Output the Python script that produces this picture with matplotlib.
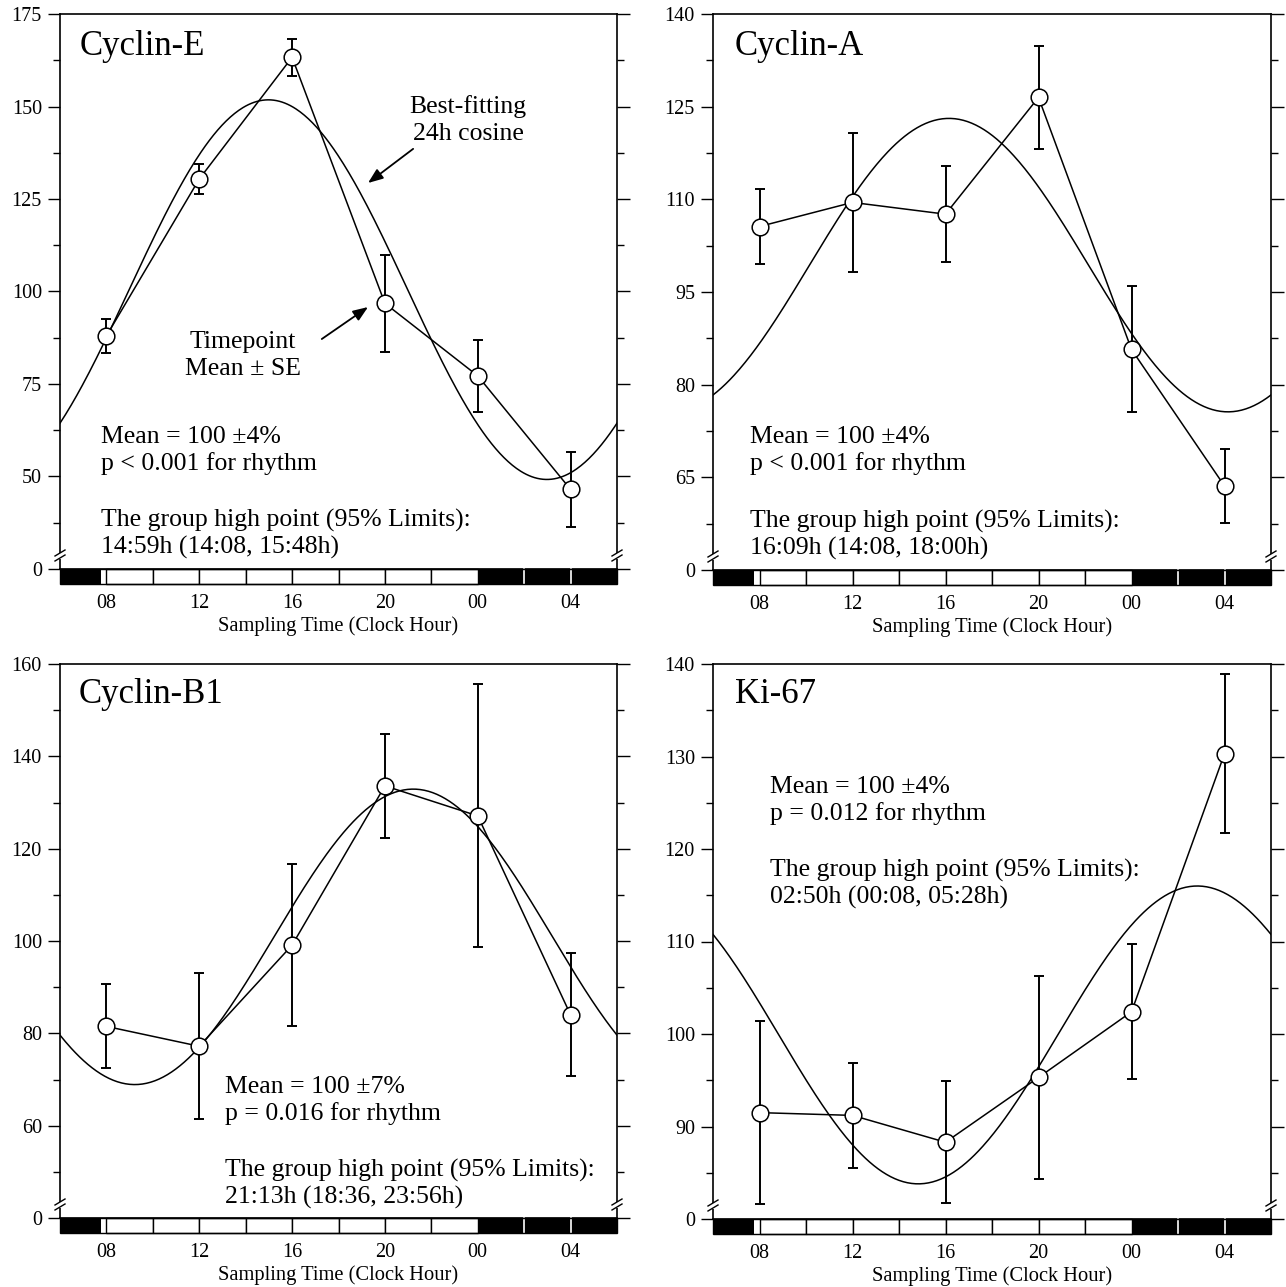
import numpy as np
import matplotlib
matplotlib.use("Agg")
import matplotlib.pyplot as plt
from matplotlib.patches import Rectangle
import matplotlib.transforms as mtransforms

plt.rcParams["font.family"] = ["Liberation Serif", "DejaVu Serif"]

# ── Data ─────────────────────────────────────────────────────────────────────
HOURS = [8, 12, 16, 20, 24, 28]
HOUR_LABELS = ["08", "12", "16", "20", "00", "04"]

CYCLIN_E_MEAN = [88.0, 130.4, 163.3, 96.8, 77.2, 46.5]
CYCLIN_E_SE = [4.5, 4.0, 5.0, 13.1, 9.7, 10.2]
CYCLIN_E_FIT = (100.5, 51.3, 14.98)        # mesor, amplitude, acrophase [h]

CYCLIN_A_MEAN = [105.6, 109.5, 107.6, 126.5, 85.7, 63.6]
CYCLIN_A_SE = [6.0, 11.2, 7.8, 8.4, 10.2, 6.0]
CYCLIN_A_FIT = (99.35, 23.75, 16.15)

CYCLIN_B1_MEAN = [81.5, 77.2, 99.1, 133.6, 127.1, 84.0]
CYCLIN_B1_SE = [9.1, 15.8, 17.6, 11.2, 28.5, 13.3]
CYCLIN_B1_FIT = (100.9, 32.0, 21.22)

KI67_MEAN = [91.5, 91.2, 88.3, 95.3, 102.4, 130.3]
KI67_SE = [9.9, 5.7, 6.6, 11.0, 7.3, 8.6]
KI67_FIT = (99.9, 16.1, 26.83)

# light/dark schedule segments (start, end, dark?)
LD_SEGMENTS = [(6, 7.75, True), (8, 10, False), (10, 12, False), (12, 14, False),
               (14, 16, False), (16, 18, False), (18, 20, False), (20, 22, False),
               (22, 24, False), (24, 26, True), (26, 28, True), (28, 30, True)]

STATS = {
    "Cyclin-E": ["Mean = 100 ±4%", "p < 0.001 for rhythm",
                 "The group high point (95% Limits):", "14:59h (14:08, 15:48h)"],
    "Cyclin-A": ["Mean = 100 ±4%", "p < 0.001 for rhythm",
                 "The group high point (95% Limits):", "16:09h (14:08, 18:00h)"],
    "Cyclin-B1": ["Mean = 100 ±7%", "p = 0.016 for rhythm",
                  "The group high point (95% Limits):", "21:13h (18:36, 23:56h)"],
    "Ki-67": ["Mean = 100 ±4%", "p = 0.012 for rhythm",
              "The group high point (95% Limits):", "02:50h (00:08, 05:28h)"],
}

W, H = 1286, 1287
fig = plt.figure(figsize=(W / 100, H / 100), dpi=100)


def px_axes(left, top, right, bottom):
    return fig.add_axes([left / W, 1 - bottom / H, (right - left) / W, (bottom - top) / H])


def draw_panel(ax, name, mean, se, fit, ylo, yhi, ystep, title_xy, stats_xy):
    ax_w, ax_h = ax.get_position().width * W, ax.get_position().height * H

    # cosine fit
    t = np.linspace(6, 30, 400)
    mesor, amp, acro = fit
    ax.plot(t, mesor + amp * np.cos(2 * np.pi * (t - acro) / 24), color="black", lw=1.1, zorder=2)

    # timepoint means
    ax.plot(HOURS, mean, color="black", lw=1.1, zorder=3)
    ax.errorbar(HOURS, mean, yerr=se, fmt="none", ecolor="black", elinewidth=1.4,
                capsize=3.5, capthick=1.4, zorder=4)
    ax.plot(HOURS, mean, "o", ms=12, mfc="white", mec="black", mew=1.1, zorder=5)

    ax.set_xlim(6, 30)
    ax.set_ylim(ylo, yhi)

    major = np.arange(ylo, yhi + 0.1, ystep)
    ax.set_yticks(major)
    ax.set_yticklabels(["0"] + [f"{v:g}" for v in major[1:]])
    ax.set_yticks(np.arange(ylo + ystep / 2, yhi, ystep), minor=True)
    ax.tick_params(axis="y", which="both", direction="out", right=True, labelsize=14.5,
                   width=1.0, pad=4)
    ax.tick_params(axis="y", which="major", length=9)
    ax.tick_params(axis="y", which="minor", length=5)

    ax.set_xticks(HOURS)
    ax.set_xticklabels(HOUR_LABELS)
    ax.tick_params(axis="x", length=0, labelsize=14.5, pad=18)
    ax.set_xlabel("Sampling Time (Clock Hour)", fontsize=14.8, labelpad=2)

    for sp in ax.spines.values():
        sp.set_linewidth(1.2)

    # light/dark bar below the axis
    bar_h = 15 / ax_h
    trans = mtransforms.blended_transform_factory(ax.transData, ax.transAxes)
    for x0, x1, dark in LD_SEGMENTS:
        ax.add_patch(Rectangle((x0, -bar_h), x1 - x0, bar_h, transform=trans,
                               facecolor="black" if dark else "white",
                               edgecolor="none" if dark else "black",
                               lw=1.0, clip_on=False, zorder=6))
    for xd in (26, 28):
        ax.plot([xd, xd], [-bar_h, 0], transform=trans, color="white", lw=1.2,
                clip_on=False, zorder=7)
    ax.add_patch(Rectangle((6, -bar_h), 24, bar_h, transform=trans, facecolor="none",
                           edgecolor="black", lw=1.0, clip_on=False, zorder=8))

    # axis break marks on both vertical spines
    dx, dy = 5 / ax_w, 1 / ax_h
    for xs in (0, 1):
        ax.plot([xs, xs], [10 * dy, 16 * dy], transform=ax.transAxes, color="white",
                lw=3, clip_on=False, zorder=9, solid_capstyle="butt")
        for y0 in (8, 13):
            ax.plot([xs - dx, xs + dx], [y0 * dy, (y0 + 6) * dy], transform=ax.transAxes,
                    color="black", lw=1.0, clip_on=False, zorder=10)

    ax.text(title_xy[0], title_xy[1], name, transform=ax.transAxes, fontsize=25,
            ha="left", va="baseline")
    offsets = [0, 27, 84, 111]
    for line, off in zip(STATS[name], offsets):
        ax.text(stats_xy[0], stats_xy[1] - off / ax_h, line, transform=ax.transAxes,
                fontsize=18.5, ha="left", va="baseline")


ax1 = px_axes(60, 14, 617, 569)
ax2 = px_axes(713, 14, 1271, 570)
ax3 = px_axes(60, 664, 617, 1218)
ax4 = px_axes(713, 664, 1271, 1219)

draw_panel(ax1, "Cyclin-E", CYCLIN_E_MEAN, CYCLIN_E_SE, CYCLIN_E_FIT, 25, 175, 25,
           (0.036, 0.926), (0.0736, 0.227))
draw_panel(ax2, "Cyclin-A", CYCLIN_A_MEAN, CYCLIN_A_SE, CYCLIN_A_FIT, 50, 140, 15,
           (0.0394, 0.926), (0.066, 0.228))
draw_panel(ax3, "Cyclin-B1", CYCLIN_B1_MEAN, CYCLIN_B1_SE, CYCLIN_B1_FIT, 40, 160, 20,
           (0.034, 0.93), (0.296, 0.2256))
draw_panel(ax4, "Ki-67", KI67_MEAN, KI67_SE, KI67_FIT, 80, 140, 10,
           (0.0394, 0.93), (0.102, 0.7676))

# callouts in the first panel
ax1.text(0.7325, 0.8216, "Best-fitting", transform=ax1.transAxes, fontsize=18.5,
         ha="center", va="baseline")
ax1.text(0.7325, 0.773, "24h cosine", transform=ax1.transAxes, fontsize=18.5,
         ha="center", va="baseline")
ax1.text(0.3285, 0.398, "Timepoint", transform=ax1.transAxes, fontsize=18.5,
         ha="center", va="baseline")
ax1.text(0.3285, 0.350, "Mean ± SE", transform=ax1.transAxes, fontsize=18.5,
         ha="center", va="baseline")
arrow = dict(arrowstyle="-|>,head_length=0.9,head_width=0.35", color="black", lw=1.3,
             shrinkA=0, shrinkB=0)
ax1.annotate("", xy=(0.553, 0.6955), xytext=(0.634, 0.757), xycoords="axes fraction",
             textcoords="axes fraction", arrowprops=arrow)
ax1.annotate("", xy=(0.553, 0.472), xytext=(0.470, 0.4144), xycoords="axes fraction",
             textcoords="axes fraction", arrowprops=arrow)

fig.savefig("out.png", dpi=100)
